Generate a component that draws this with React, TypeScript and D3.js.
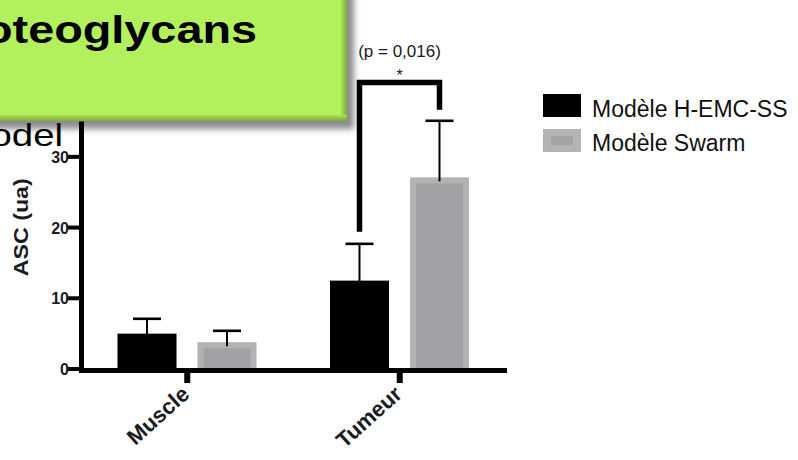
import React from "react";
import * as d3 from "d3";

const categories = ["Muscle", "Tumeur"];
const seriesNames = ["Modèle H-EMC-SS", "Modèle Swarm"];
const hemcMeans = [5.0, 12.5];
const hemcErrors = [2.1, 5.2];
const swarmMeans = [3.8, 27.1];
const swarmErrors = [1.6, 8.0];
const yTicks = [0, 10, 20, 30];
const yLabel = "ASC (ua)";
const pLabel = "(p = 0,016)";
const starLabel = "*";
const bracketLevel = 40.5;
const titleText = "Proteoglycans";
const subText = "Model";

const W = 798;
const H = 460;
const FONT = "'Liberation Sans', Arial, Helvetica, sans-serif";

export default function App() {
  const x0 = d3.scaleBand<string>().domain(categories).range([81, 506]).padding(0);
  const xs = d3.scaleBand<string>().domain(seriesNames).range([36.5, 175.5]).paddingInner(0.2625);
  const y = d3.scaleLinear().domain([0, 35]).range([369, 121.5]);

  const rows = categories.map((c, i) => ({
    cat: c,
    vals: [
      { s: seriesNames[0], m: hemcMeans[i], e: hemcErrors[i] },
      { s: seriesNames[1], m: swarmMeans[i], e: swarmErrors[i] },
    ],
  }));

  const bw = xs.bandwidth();
  const capW = 28;

  // bracket between Tumeur bars
  const tIdx = 1;
  const bx1 = (x0(categories[tIdx]) as number) + (xs(seriesNames[0]) as number) + bw / 2;
  const bx2 = (x0(categories[tIdx]) as number) + (xs(seriesNames[1]) as number) + bw / 2;
  const by1 = y(hemcMeans[tIdx] + hemcErrors[tIdx]) - 12;
  const by2 = y(swarmMeans[tIdx] + swarmErrors[tIdx]) - 11;
  const byTop = y(bracketLevel);
  const bracketPath = d3.path();
  bracketPath.moveTo(bx1, by1);
  bracketPath.lineTo(bx1, byTop);
  bracketPath.lineTo(bx2, byTop);
  bracketPath.lineTo(bx2, by2);

  const axisY = y(0) + 1.5;

  return (
    <svg width={W} height={H} style={{ position: "absolute", left: 0, top: 0, background: "#fff" }} fontFamily={FONT}>
      <defs>
        <filter id="shadow" x="-20%" y="-20%" width="140%" height="160%">
          <feGaussianBlur stdDeviation="3" />
        </filter>
        <linearGradient id="bevelR" x1="0" x2="1" y1="0" y2="0">
          <stop offset="0" stopColor="#a9e255" />
          <stop offset="1" stopColor="#7da93a" />
        </linearGradient>
        <linearGradient id="bevelB" x1="0" x2="0" y1="0" y2="1">
          <stop offset="0" stopColor="#a9e255" />
          <stop offset="1" stopColor="#7da93a" />
        </linearGradient>
      </defs>

      {/* Chart */}
      <g>
        {/* bars */}
        {rows.map((r) =>
          r.vals.map((v, j) => {
            const bx = (x0(r.cat) as number) + (xs(v.s) as number);
            const top = y(v.m);
            const h = y(0) - top;
            const cx = bx + bw / 2;
            const ey = y(v.m + v.e);
            return (
              <g key={r.cat + j}>
                {j === 0 ? (
                  <rect x={bx} y={top} width={bw} height={h} fill="#000" />
                ) : (
                  <g>
                    <rect x={bx} y={top} width={bw} height={h} fill="#b3b3b3" />
                    <rect x={bx + 6} y={top + 6} width={bw - 12} height={h - 6} fill="#a2a2a6" />
                  </g>
                )}
                <line x1={cx} x2={cx} y1={top + 4} y2={ey} stroke="#000" strokeWidth={2} />
                <line x1={cx - capW / 2} x2={cx + capW / 2} y1={ey} y2={ey} stroke="#000" strokeWidth={2.6} />
              </g>
            );
          })
        )}

        {/* y axis */}
        <line x1={81.5} x2={81.5} y1={y(35)} y2={axisY + 2.5} stroke="#000" strokeWidth={5} />
        {yTicks.map((t) => (
          <g key={t}>
            <line x1={68} x2={81} y1={y(t)} y2={y(t)} stroke="#000" strokeWidth={4} />
            <text x={69} y={y(t) + 6} textAnchor="end" fontSize={16} fontWeight="bold" fill="#1a1a22">
              {t}
            </text>
          </g>
        ))}
        <text
          transform={`translate(28,${(y(0) + y(35)) / 2 - 18}) rotate(-90)`}
          textAnchor="middle"
          fontSize={21}
          fontWeight="bold"
          fill="#1a1a22"
          textLength={98}
          lengthAdjust="spacingAndGlyphs"
        >
          {yLabel}
        </text>

        {/* x axis */}
        <line x1={79} x2={507} y1={axisY} y2={axisY} stroke="#000" strokeWidth={5} />
        {categories.map((c) => {
          const cx = (x0(c) as number) + x0.bandwidth() / 2;
          return (
            <g key={c}>
              <line x1={cx} x2={cx} y1={axisY} y2={383} stroke="#000" strokeWidth={6} />
              <text
                transform={`translate(${cx + 3.5},396) rotate(-42)`}
                textAnchor="end"
                fontSize={22}
                fontWeight="bold"
                fill="#1a1a22"
              >
                {c}
              </text>
            </g>
          );
        })}

        {/* significance bracket */}
        <path d={bracketPath.toString()} fill="none" stroke="#000" strokeWidth={5.5} strokeLinejoin="miter" />
        <text x={(bx1 + bx2) / 2} y={byTop - 2} textAnchor="middle" fontSize={16} fill="#1a1a22">
          {starLabel}
        </text>
        <text x={(bx1 + bx2) / 2} y={56.5} textAnchor="middle" fontSize={17} fill="#1a1a22">
          {pLabel}
        </text>

        {/* legend */}
        <rect x={543} y={94} width={38} height={23} fill="#000" />
        <text x={592} y={117} fontSize={23} fill="#111">
          {seriesNames[0]}
        </text>
        <rect x={543} y={129} width={38} height={23} fill="#b4b4b4" />
        <rect x={551} y={136} width={22} height={9} fill="#a3a3a7" />
        <text x={592} y={151} fontSize={23} fill="#111">
          {seriesNames[1]}
        </text>
      </g>

      {/* overlay slide elements */}
      <text x={63 / 1.2} y={146} transform="scale(1.2,1)" textAnchor="end" fontSize={32} fill="#000">
        {subText}
      </text>

      <rect x={-10} y={-10} width={362} height={137} fill="rgba(0,0,0,0.45)" filter="url(#shadow)" transform="translate(2,2)" />
      <rect x={-10} y={-10} width={357} height={131} fill="#b3f05e" />
      <rect x={341} y={-10} width={6} height={131} fill="url(#bevelR)" />
      <rect x={-10} y={115} width={357} height={6} fill="url(#bevelB)" />
      <text x={257 / 1.2} y={43} transform="scale(1.2,1)" textAnchor="end" fontSize={39} fontWeight="bold" fill="#000">
        {titleText}
      </text>
    </svg>
  );
}
